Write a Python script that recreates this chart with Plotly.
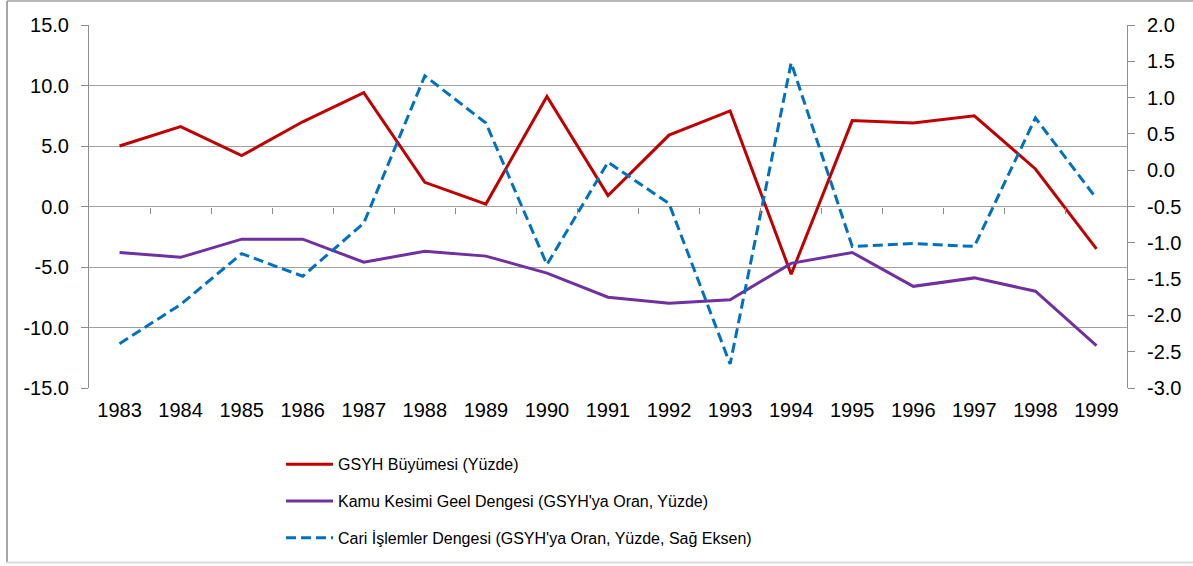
import plotly.graph_objects as go

years = [str(y) for y in range(1983, 2000)]
gdp_growth = [5.0, 6.6, 4.2, 7.0, 9.4, 2.0, 0.2, 9.1, 0.9, 5.9, 7.9, -5.6, 7.1, 6.9, 7.5, 3.1, -3.5]
public_balance = [-3.8, -4.2, -2.7, -2.7, -4.6, -3.7, -4.1, -5.5, -7.5, -8.0, -7.7, -4.7, -3.8, -6.6, -5.9, -7.0, -11.5]
current_account = [-2.39, -1.85, -1.15, -1.46, -0.73, 1.30, 0.65, -1.30, 0.11, -0.46, -2.67, 1.48, -1.05, -1.01, -1.05, 0.72, -0.39]

names = ["GSYH Büyümesi (Yüzde)",
         "Kamu Kesimi Geel Dengesi (GSYH'ya Oran, Yüzde)",
         "Cari İşlemler Dengesi (GSYH'ya Oran, Yüzde, Sağ Eksen)"]

left_ticks = [-15, -10, -5, 0, 5, 10, 15]
left_text = ["-15.0", "-10.0", "-5.0", "0.0", "5.0", "10.0", "15.0"]
right_ticks = [-3.0, -2.5, -2.0, -1.5, -1.0, -0.5, 0.0, 0.5, 1.0, 1.5, 2.0]
right_text = ["-3.0", "-2.5", "-2.0", "-1.5", "-1.0", "-0.5", "0.0", "0.5", "1.0", "1.5", "2.0"]

FONT = "Liberation Sans, Arial, sans-serif"
GRID = "#A0A0A0"
AXIS = "#8C8C8C"

fig = go.Figure()
fig.add_trace(go.Scatter(x=years, y=gdp_growth, name=names[0], mode="lines",
                         line=dict(color="#C00000", width=3), legendgroup="a"))
fig.add_trace(go.Scatter(x=years, y=public_balance, name=names[1], mode="lines",
                         line=dict(color="#7030A0", width=3), legendgroup="b"))
fig.add_trace(go.Scatter(x=years, y=current_account, name=names[2], mode="lines",
                         line=dict(color="#0070C0", width=3, dash="10px,5px"),
                         yaxis="y2", legendgroup="c"))
# helper trace so the category-boundary tick axis on the zero line is drawn
n = len(years)
fig.add_trace(go.Scatter(x=[-0.5, n - 0.5], y=[0, 0], xaxis="x2", yaxis="y",
                         showlegend=False, hoverinfo="skip", mode="lines",
                         line=dict(color="rgba(0,0,0,0)", width=0)))

fig.update_layout(
    width=1193, height=566,
    margin=dict(l=89, r=66, t=25, b=177),
    paper_bgcolor="white", plot_bgcolor="white",
    font=dict(family=FONT, size=20, color="#000000"),
    showlegend=True,
    legend=dict(x=0.185, y=-0.160, xanchor="left", yanchor="top",
                font=dict(size=16, family=FONT), tracegroupgap=13, itemwidth=47,
                bgcolor="rgba(0,0,0,0)", traceorder="grouped"),
    xaxis=dict(type="category", categoryorder="array", categoryarray=years,
               range=[-0.5, n - 0.5], showgrid=False, showline=False, zeroline=False,
               ticks="", ticklabelstandoff=8, tickfont=dict(size=20)),
    xaxis2=dict(overlaying="x", anchor="free", position=0.5, side="bottom",
                range=[-0.5, n - 0.5], tickvals=[i + 0.5 for i in range(n - 1)],
                ticks="outside", ticklen=6, tickcolor=AXIS, tickwidth=1,
                showticklabels=False, showgrid=False, showline=False, zeroline=False),
    yaxis=dict(range=[-15, 15], tickvals=left_ticks, ticktext=left_text,
               showgrid=True, gridcolor=GRID, gridwidth=1, zeroline=False,
               showline=True, linecolor=AXIS, linewidth=1,
               ticks="outside", ticklen=7, tickcolor=AXIS,
               ticklabelstandoff=8, tickfont=dict(size=20)),
    yaxis2=dict(range=[-3, 2], tickvals=right_ticks, ticktext=right_text,
                overlaying="y", side="right", showgrid=False, zeroline=False,
                showline=True, linecolor=AXIS, linewidth=1,
                ticks="outside", ticklen=7, tickcolor=AXIS,
                ticklabelstandoff=8, tickfont=dict(size=20)),
    shapes=[
        dict(type="line", xref="paper", yref="paper", x0=-0.079, x1=-0.079, y0=1.066, y1=-0.481,
             line=dict(color="#888888", width=1.5)),
        dict(type="line", xref="paper", yref="paper", x0=-0.079, x1=1.07, y0=1.066, y1=1.066,
             line=dict(color="#A0A0A0", width=1.5)),
        dict(type="line", xref="paper", yref="paper", x0=-0.079, x1=1.07, y0=-0.481, y1=-0.481,
             line=dict(color="#DDDDDD", width=2)),
    ],
)

fig.write_html("out.html", config={"displayModeBar": False},
               post_script="document.body.style.margin='0';document.body.style.overflow='hidden';")
